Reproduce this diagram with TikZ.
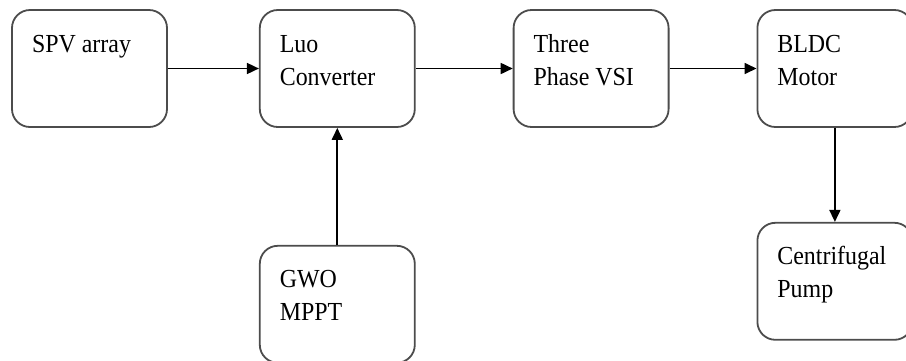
\documentclass[tikz,border=0pt]{standalone}
\usepackage{fontspec}
\setmainfont{Liberation Serif}[FakeStretch=0.92]
\usetikzlibrary{positioning,arrows.meta}

\begin{document}
\begin{tikzpicture}[x=1pt,y=-1pt,
    font=\fontsize{26}{33}\selectfont,
    blok/.style={draw=black!70, line width=1.8pt, rounded corners=18pt,
      text width=115pt, inner xsep=20pt, inner ysep=0pt,
      text height=42pt, text depth=75pt, align=flush left},
    flow/.style={line width=1.7pt, -{Triangle[length=12pt,width=11pt]}}]

    \useasboundingbox (0,0) rectangle (906,360);

    % upper row
    \node[blok] (spv) at (89.5,68.5) {SPV array};
    \node[blok, right=91pt of spv] (luo) {Luo\\Converter};
    \node[blok, right=97pt of luo] (vsi) {Three\\Phase VSI};
    \node[blok, right=87pt of vsi] (bldc) {BLDC\\Motor};

    % controller and load
    \node[blok, below=117pt of luo] (gwo) {GWO\\MPPT};
    \node[blok, below=94pt of bldc] (pump) {Centrifugal\\Pump};

    \draw[flow] (spv) -- (luo);
    \draw[flow] (luo) -- (vsi);
    \draw[flow] (vsi) -- (bldc);
    \draw[flow] (gwo) -- (luo);
    \draw[flow] (bldc) -- (pump);
    %
\end{tikzpicture}
\end{document}
